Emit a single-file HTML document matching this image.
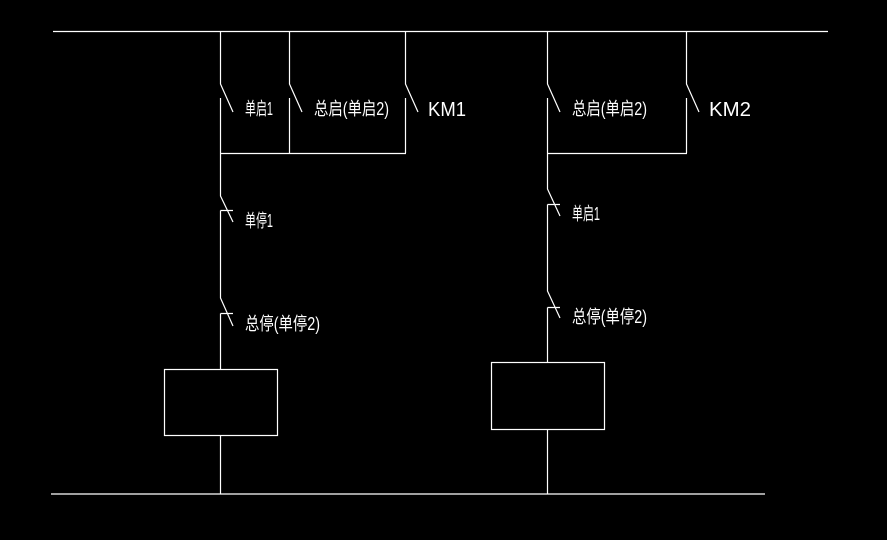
<!DOCTYPE html>
<html><head><meta charset="utf-8"><style>
html,body{margin:0;padding:0;background:#000;width:887px;height:540px;overflow:hidden}
svg{display:block}
text{fill:#fff;font-family:"Liberation Sans","Noto Sans CJK SC",sans-serif}
</style></head><body>
<svg width="887" height="540" viewBox="0 0 887 540" xmlns="http://www.w3.org/2000/svg">
<g stroke="#fff" stroke-width="1.2" fill="none">
<line x1="53" y1="31.5" x2="828" y2="31.5"/>
<line x1="51" y1="494" x2="765" y2="494"/>
<path d="M220.5 31 V84 L233 112 M220.5 98 V196 L233 222 M220.5 210.5 H233 M220.5 210.5 V298 L233 326 M220.5 313.5 H233 M220.5 313.5 V369 M220.5 435 V494"/>
<path d="M289.5 31 V84 L302 112 M289.5 98 V153"/>
<path d="M405.5 31 V84 L418 112 M405.5 98 V153"/>
<line x1="220" y1="153.5" x2="406" y2="153.5"/>
<rect x="164.5" y="369.5" width="113" height="66"/>
<path d="M547.5 31 V84 L560 112 M547.5 98 V189 L560 216 M547.5 204.5 H560 M547.5 204.5 V291 L560 318 M547.5 307.5 H560 M547.5 307.5 V362 M547.5 429 V494"/>
<path d="M686.5 31 V84 L699 112 M686.5 98 V153"/>
<line x1="547" y1="153.5" x2="687" y2="153.5"/>
<rect x="491.5" y="362.5" width="113" height="67"/>
</g>
<g font-size="18">
<text x="245" y="115" textLength="28" lengthAdjust="spacingAndGlyphs">单启1</text>
<text x="314" y="115" textLength="75" lengthAdjust="spacingAndGlyphs">总启(单启2)</text>
<text x="245" y="227" textLength="28" lengthAdjust="spacingAndGlyphs">单停1</text>
<text x="245" y="330" textLength="75" lengthAdjust="spacingAndGlyphs">总停(单停2)</text>
<text x="572" y="115" textLength="75" lengthAdjust="spacingAndGlyphs">总启(单启2)</text>
<text x="572" y="220" textLength="28" lengthAdjust="spacingAndGlyphs">单启1</text>
<text x="572" y="323" textLength="75" lengthAdjust="spacingAndGlyphs">总停(单停2)</text>
</g>
<g font-size="20">
<text x="428" y="116" textLength="38" lengthAdjust="spacingAndGlyphs">KM1</text>
<text x="709" y="116" textLength="42" lengthAdjust="spacingAndGlyphs">KM2</text>
</g>
</svg>
</body></html>
